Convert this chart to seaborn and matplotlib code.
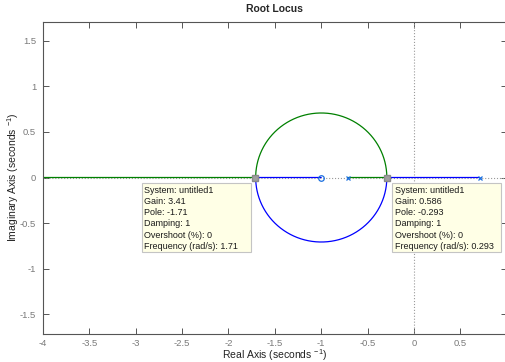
import numpy as np
import pandas as pd
import matplotlib
matplotlib.use("Agg")
import matplotlib.pyplot as plt
import seaborn as sns
from matplotlib.patches import Rectangle

# ---- system data ----
zeros = [-1.0]
poles = [-0.7071, 0.7071]
num = [1.0, 1.0]            # s + 1
den = [1.0, 0.0, -0.5]      # s^2 - 0.5
gains_tip = [3.41, 0.586]
poles_tip = [-1.71, -0.293]
x_ticks = [-4, -3.5, -3, -2.5, -2, -1.5, -1, -0.5, 0, 0.5, 1]
y_ticks = [-1.5, -1, -0.5, 0, 0.5, 1, 1.5]

# ---- root locus via library root finding over gains ----
k_break = [0.5858, 3.4142]
K = np.unique(np.concatenate([np.linspace(0, 8, 8001), k_break, [20, 100, 1000]]))
rows = []
for i, k in enumerate(K):
    coeffs = np.polyadd(den, k * np.array(num))
    r = np.roots(coeffs)
    if np.all(np.abs(r.imag) < 1e-9):
        r = np.sort(r.real)
        green, blue = complex(r[0]), complex(r[1])
    else:
        green = r[np.argmax(r.imag)]
        blue = r[np.argmin(r.imag)]
    rows.append(dict(branch="g", order=i, re=green.real, im=green.imag))
    rows.append(dict(branch="b", order=i, re=blue.real, im=blue.imag))
df = pd.DataFrame(rows)

sns.set_style("ticks")
plt.rcParams["font.family"] = ["Liberation Sans", "DejaVu Sans"]
plt.rcParams["mathtext.fontset"] = "custom"
plt.rcParams["mathtext.rm"] = "Liberation Sans"

fig = plt.figure(figsize=(5.06, 3.62), dpi=100)
ax = fig.add_axes([43 / 506, (362 - 333.5) / 362, (506.75 - 43) / 506, (333.5 - 21.5) / 362])

ax.axhline(0, color="#9a9a9a", ls=":", lw=0.8, zorder=1)
ax.axvline(0, color="#9a9a9a", ls=":", lw=0.8, zorder=1)

sns.lineplot(data=df, x="re", y="im", hue="branch", units="branch", sort=False,
             estimator=None, palette={"g": "#008000", "b": "#0000ff"},
             lw=0.9, legend=False, ax=ax, zorder=2)

ax.plot(zeros, [0] * len(zeros), "o", ms=4, mfc="none", mec="#1a6fdf", mew=0.9, zorder=3)
ax.plot(poles, [0] * len(poles), "x", ms=3.5, color="#1a6fdf", mew=0.9, zorder=3)

ax.plot(poles_tip, [0, 0], "s", ms=5, color="#a0a0a0", mec="#8a8a8a", zorder=4)

def tip(x0, x1, tx, g, p):
    ax.add_patch(Rectangle((x0, -0.821), x1 - x0, 0.766, facecolor="#ffffe6",
                           edgecolor="#c4c4c4", lw=0.8, zorder=5))
    txt = (f"System: untitled1\nGain: {g}\nPole: {p}\nDamping: 1\n"
           f"Overshoot (%): 0\nFrequency (rad/s): {abs(p)}")
    ax.text(tx, -0.09, txt, ha="left", va="top", fontsize=6.5,
            linespacing=1.32, color="#1a1a1a", zorder=6)

tip(-2.93, -1.757, -2.911, gains_tip[0], poles_tip[0])
tip(-0.237, 0.94, -0.210, gains_tip[1], poles_tip[1])

ax.set_xlim(-4, 1)
ax.set_ylim(-1.71, 1.71)
ax.set_xticks(x_ticks)
ax.set_xticklabels([f"{t:g}" for t in x_ticks])
ax.set_yticks(y_ticks)
ax.set_yticklabels([f"{t:g}" for t in y_ticks])
ax.tick_params(direction="in", length=4, width=0.7, color="#555555",
               labelsize=6.8, labelcolor="#7a7a7a", top=True, right=True, pad=5)
ax.tick_params(axis="x", pad=4)
for s in ax.spines.values():
    s.set_color("#555555")
    s.set_linewidth(0.8)

ax.set_xlabel(r"Real Axis (seconds $^{-1}$)", fontsize=7.5, color="#222222")
ax.set_ylabel(r"Imaginary Axis (seconds $^{-1}$)", fontsize=7.5, color="#222222")
ax.xaxis.set_label_coords(0.5, -0.044)
ax.yaxis.set_label_coords(-0.047, 0.5)
ax.set_title("Root Locus", fontsize=7.5, fontweight="bold", pad=7)

fig.savefig("out.png", dpi=100)
